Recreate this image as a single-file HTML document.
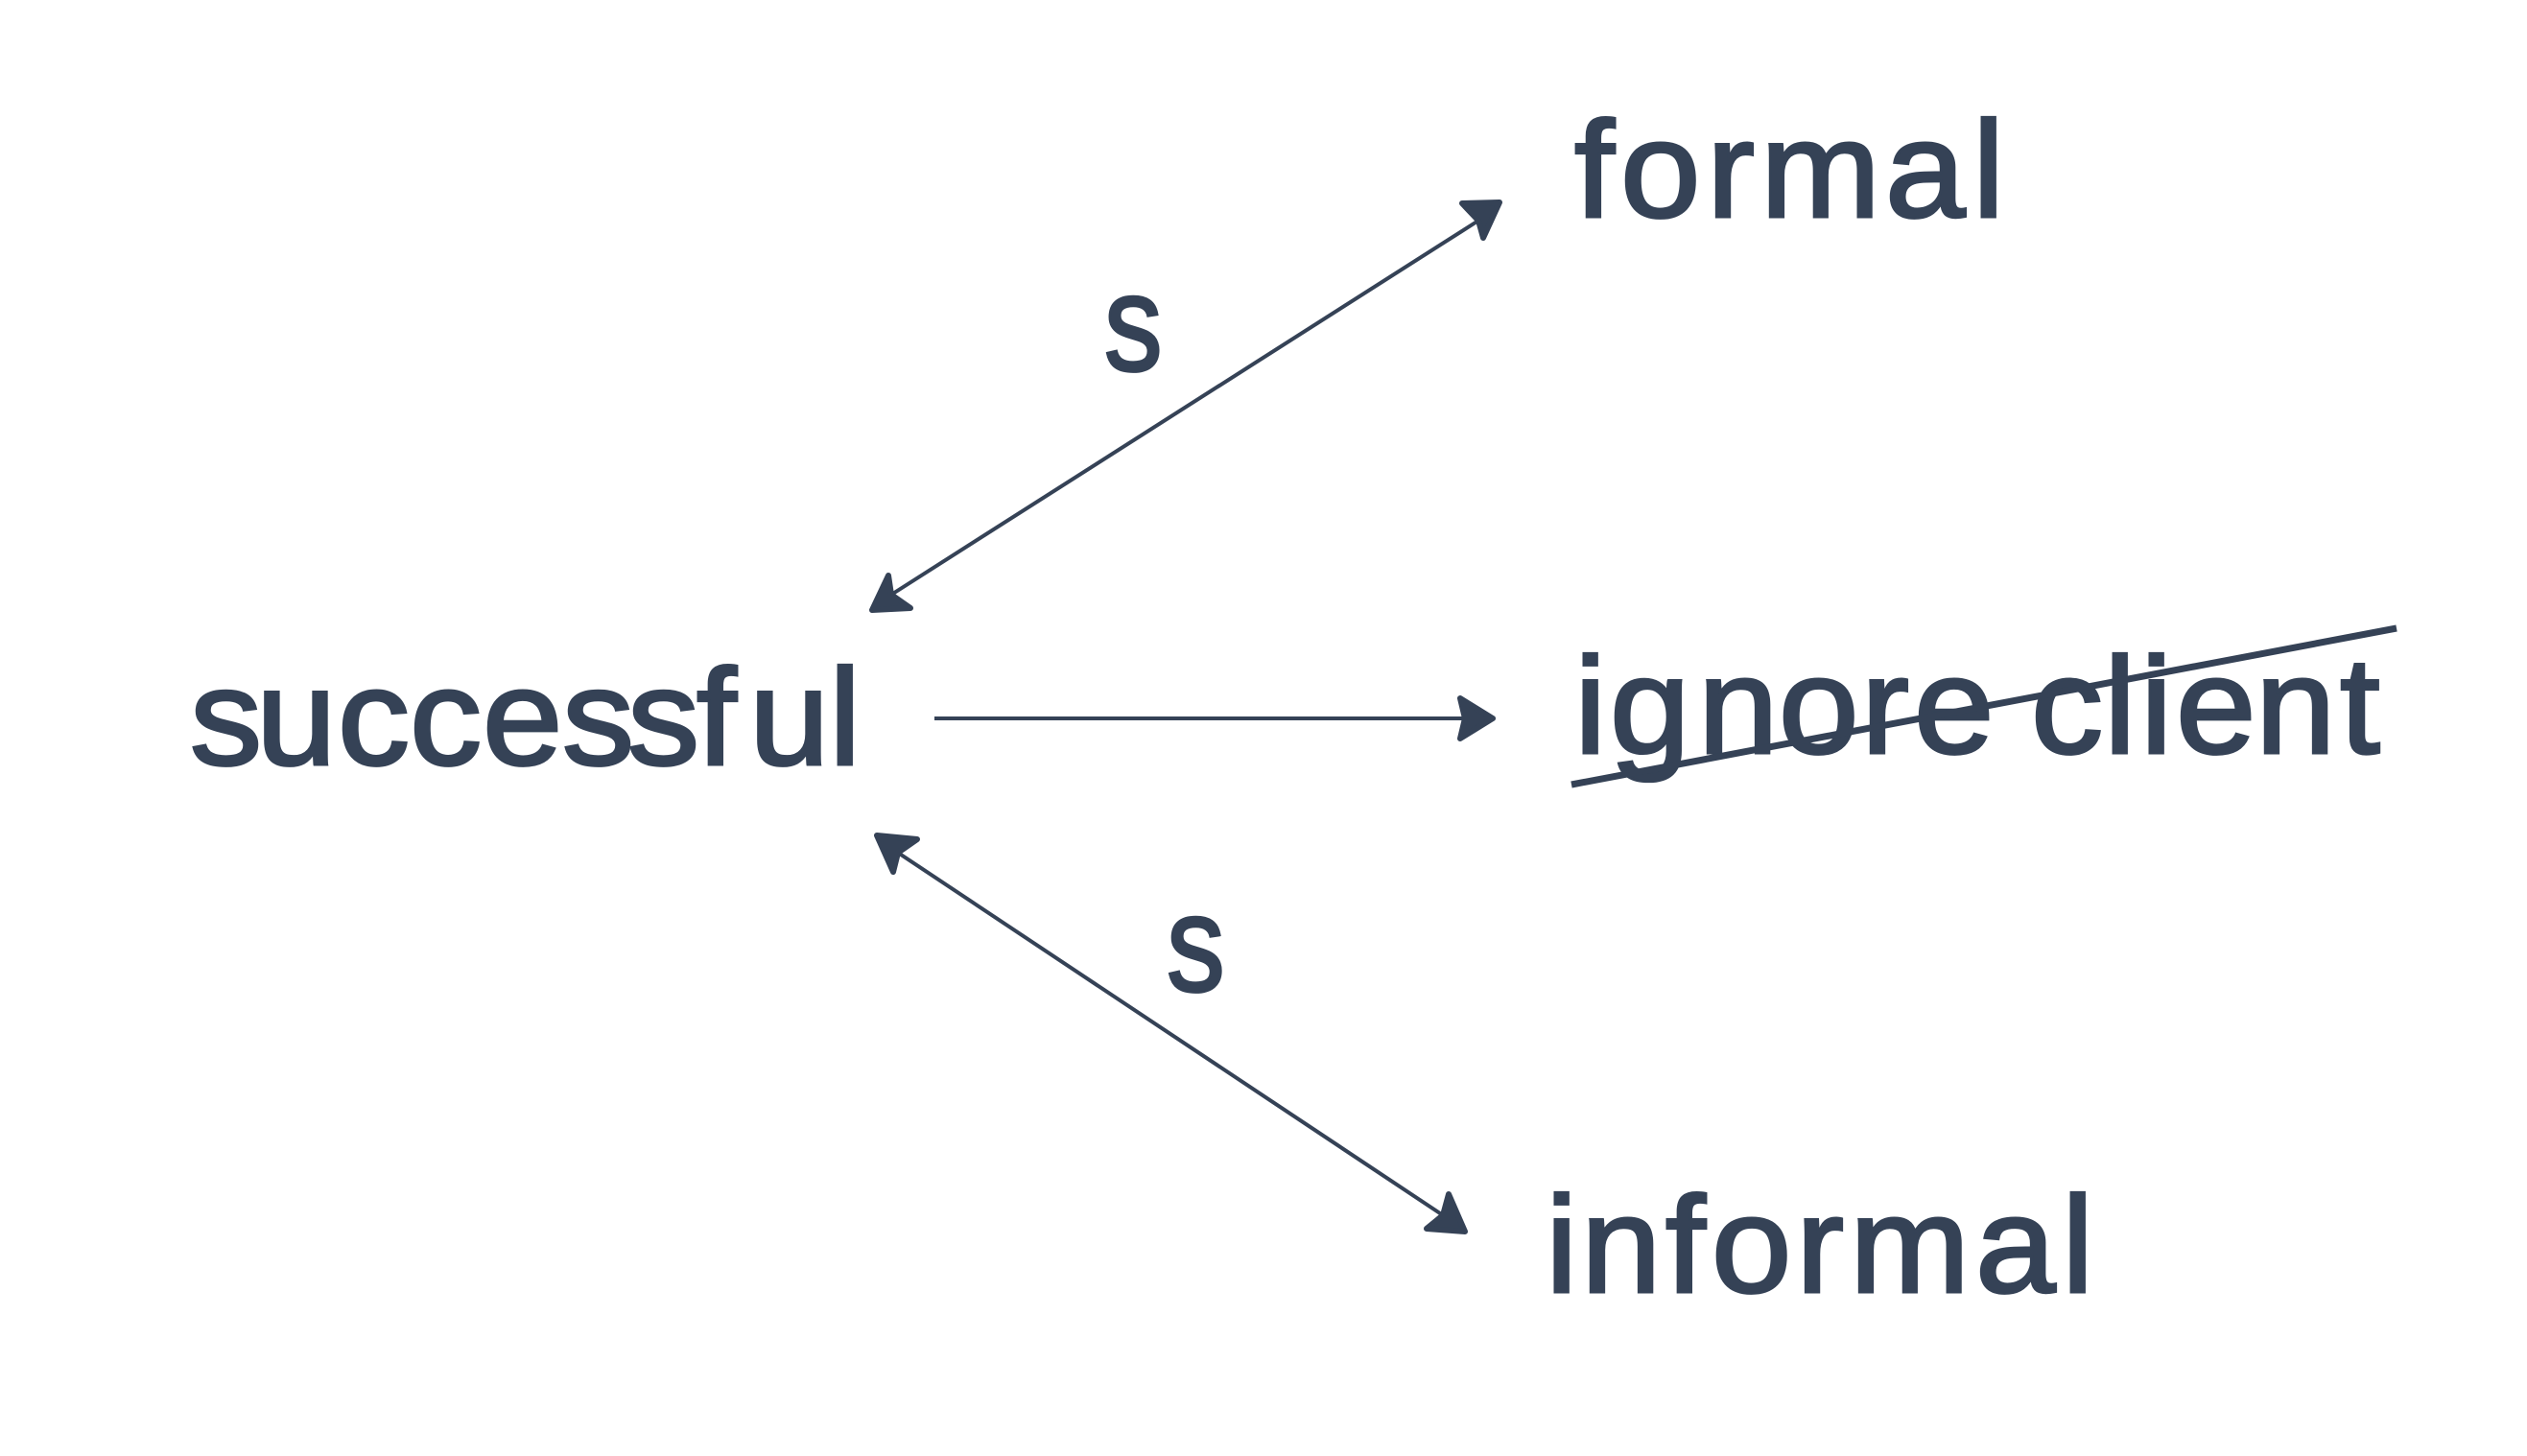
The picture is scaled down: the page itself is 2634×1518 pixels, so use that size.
<!DOCTYPE html>
<html><head><meta charset="utf-8"><style>
html,body{margin:0;padding:0;background:#fff}
svg{display:block}
text{font-family:"Liberation Sans",sans-serif;font-size:143px;fill:#354256;stroke:#354256;stroke-width:3px}
</style></head><body>
<svg width="2634" height="1518" viewBox="0 0 2634 1518" xmlns="http://www.w3.org/2000/svg">
<rect width="2634" height="1518" fill="#fff"/>
<text transform="scale(1.05 1)" y="797" x="188.6 254.3 335.2 406.7 479 558.1 622.9 691.4 743.8 822.9">successful</text>
<text transform="scale(1.05 1)" y="226" x="1562.9 1608.6 1694.3 1747.6 1871.4 1958.1">formal</text>
<text transform="scale(1.05 1)" y="785" x="1562.9 1598.1 1685.7 1765.7 1847.6 1900 1990.5 2016.2 2088.6 2124.8 2160 2239 2322.9">ignore client</text>
<text transform="scale(1.05 1)" y="1347" x="1534.3 1569.5 1653.3 1699 1782.9 1836.2 1961 2046.7">informal</text>
<text transform="scale(.85 1)" x="1354" y="386">s</text>
<text transform="scale(.85 1)" x="1430.6" y="1033">s</text>
<g stroke="#354256" stroke-width="4" fill="none">
<line x1="1541" y1="230" x2="929" y2="620"/>
<line x1="974" y1="749" x2="1527" y2="749"/>
<line x1="936" y1="889" x2="1504" y2="1267"/>
</g>
<line x1="1638" y1="818" x2="2498" y2="655" stroke="#354256" stroke-width="7"/>
<g fill="#354256" stroke="#354256" stroke-width="6" stroke-linejoin="round">
<polygon points="1563,211 1524,212 1541,230 1546,248"/>
<polygon points="909,636 926,600 929,620 949,634"/>
<polygon points="1556,749 1522,728 1527,749 1522,770"/>
<polygon points="914,871 956,875 936,889 931,909"/>
<polygon points="1527,1284 1510,1245 1504,1267 1487,1281"/>
</g>
</svg>
</body></html>
